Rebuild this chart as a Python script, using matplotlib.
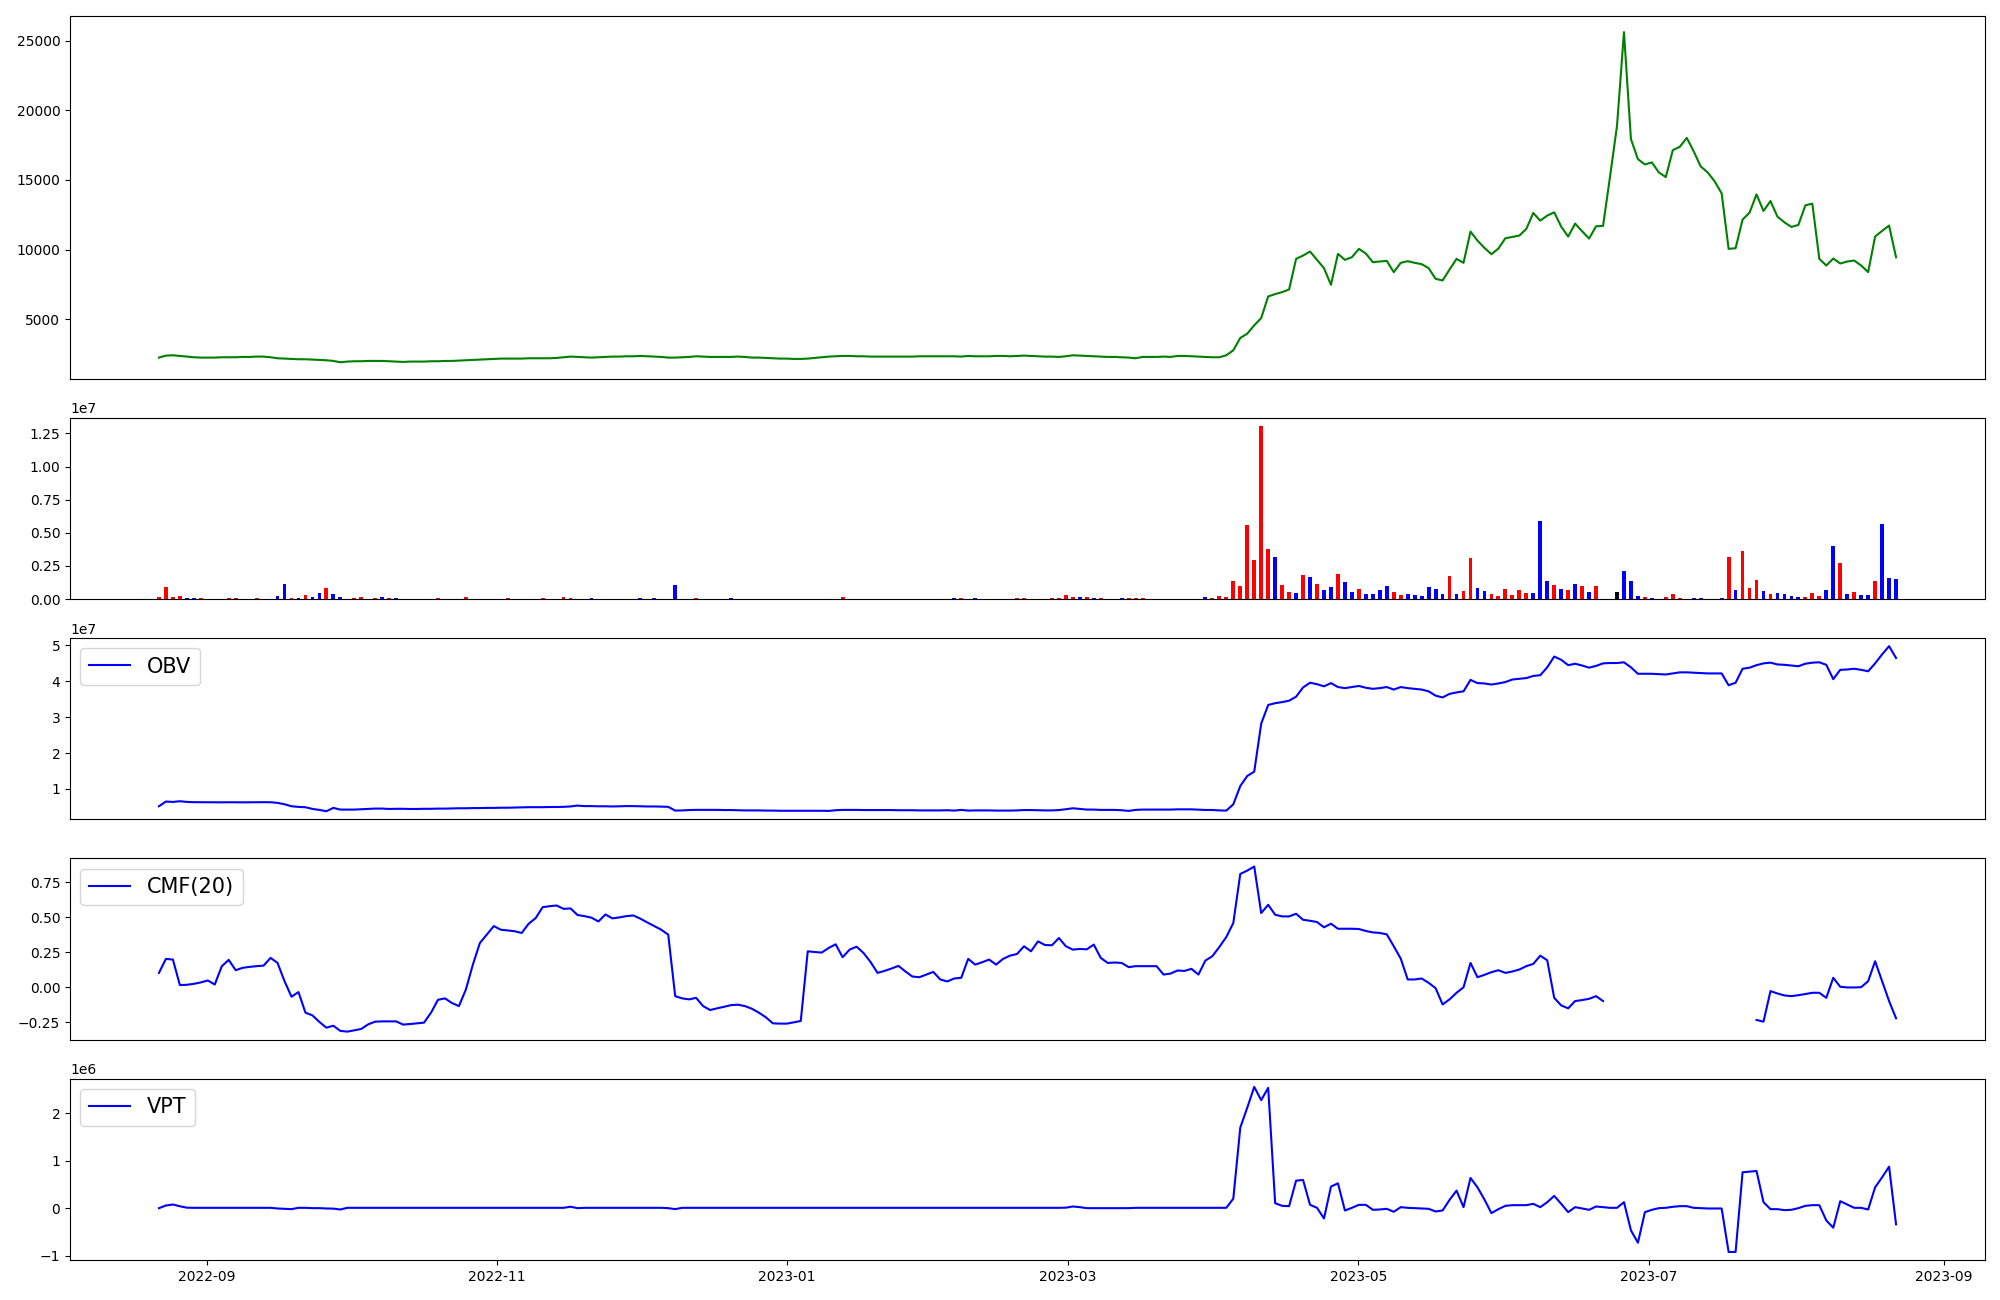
import numpy as np
import pandas as pd
import matplotlib
matplotlib.use('Agg')
import matplotlib.pyplot as plt

# 250 evenly spaced sessions, 2022-08-22 .. 2023-08-22
dates = pd.date_range('2022-08-22', '2023-08-22', periods=250)

close = [
    2249, 2392, 2416, 2368, 2321, 2273, 2249, 2249, 2249, 2273,
    2273, 2273, 2297, 2297, 2321, 2321, 2273, 2201, 2177, 2154,
    2130, 2130, 2106, 2082, 2058, 2010, 1915, 1963, 1987, 1987,
    2010, 2010, 2010, 1987, 1963, 1939, 1963, 1963, 1963, 1987,
    1987, 2010, 2010, 2034, 2058, 2082, 2106, 2130, 2154, 2177,
    2177, 2177, 2177, 2201, 2201, 2201, 2201, 2225, 2273, 2321,
    2297, 2273, 2249, 2273, 2297, 2321, 2321, 2344, 2344, 2368,
    2344, 2321, 2297, 2249, 2249, 2273, 2297, 2344, 2321, 2297,
    2297, 2297, 2297, 2321, 2297, 2249, 2249, 2225, 2201, 2177,
    2177, 2154, 2154, 2177, 2225, 2273, 2321, 2344, 2368, 2368,
    2344, 2344, 2321, 2321, 2321, 2321, 2321, 2321, 2321, 2344,
    2344, 2344, 2344, 2344, 2344, 2321, 2368, 2344, 2344, 2344,
    2368, 2368, 2344, 2368, 2392, 2368, 2344, 2321, 2321, 2297,
    2344, 2416, 2392, 2368, 2344, 2321, 2297, 2297, 2273, 2249,
    2201, 2297, 2297, 2297, 2321, 2297, 2368, 2368, 2344, 2320,
    2297, 2273, 2273, 2416, 2774, 3657, 3967, 4563, 5088, 6639,
    6806, 6949, 7140, 9335, 9574, 9861, 9264, 8667, 7474, 9694,
    9264, 9455, 10051, 9717, 9097, 9145, 9192, 8381, 9049, 9168,
    9049, 8954, 8667, 7904, 7784, 8572, 9335, 9049, 11292, 10648,
    10122, 9669, 10075, 10814, 10910, 11005, 11483, 12628, 12079, 12437,
    12676, 11650, 10934, 11865, 11316, 10791, 11674, 11698, 15229, 18879,
    25608, 17925, 16493, 16111, 16255, 15539, 15205, 17138, 17376, 18020,
    17042, 15968, 15539, 14895, 14036, 10051, 10099, 12151, 12652, 13964,
    12771, 13487, 12366, 11960, 11626, 11769, 13177, 13296, 9335, 8858,
    9359, 9002, 9145, 9216, 8858, 8381, 10934, 11340, 11722, 9450,
]

# volume in millions of shares
volume_m = [
    0.15, 0.9, 0.15, 0.23, 0.08, 0.08, 0.08, 0, 0, 0,
    0.08, 0.08, 0, 0, 0.08, 0, 0, 0.23, 1.13, 0.08,
    0.08, 0.3, 0.15, 0.45, 0.83, 0.38, 0.15, 0, 0.08, 0.15,
    0, 0.08, 0.15, 0.08, 0.08, 0, 0, 0, 0, 0,
    0.08, 0, 0, 0, 0.15, 0, 0, 0, 0, 0,
    0.08, 0, 0, 0, 0, 0.08, 0, 0, 0.15, 0.08,
    0, 0, 0.08, 0, 0, 0, 0, 0, 0, 0.08,
    0, 0.08, 0, 0, 1.06, 0, 0, 0.08, 0, 0,
    0, 0, 0.08, 0, 0, 0, 0, 0, 0, 0,
    0, 0, 0, 0, 0, 0, 0, 0, 0.15, 0,
    0, 0, 0, 0, 0, 0, 0, 0, 0, 0,
    0, 0, 0, 0, 0.08, 0.08, 0, 0.08, 0, 0,
    0, 0, 0, 0.08, 0.08, 0, 0, 0, 0.08, 0.08,
    0.3, 0.15, 0.15, 0.15, 0.08, 0.08, 0, 0, 0.08, 0.08,
    0.08, 0.08, 0, 0, 0, 0, 0, 0, 0, 0,
    0.15, 0.08, 0.23, 0.15, 1.36, 0.98, 5.58, 2.94, 13.05, 3.77,
    3.17, 1.06, 0.53, 0.45, 1.81, 1.66, 1.13, 0.68, 0.90, 1.89,
    1.28, 0.53, 0.75, 0.38, 0.38, 0.68, 0.98, 0.53, 0.30, 0.38,
    0.30, 0.23, 0.90, 0.75, 0.38, 1.73, 0.38, 0.60, 3.09, 0.83,
    0.60, 0.38, 0.23, 0.75, 0.30, 0.68, 0.45, 0.45, 5.88, 1.36,
    1.06, 0.75, 0.68, 1.13, 0.98, 0.53, 0.98, 0, 0, 0.53,
    2.11, 1.36, 0.23, 0.15, 0.08, 0, 0.15, 0.38, 0.08, 0,
    0.08, 0.08, 0, 0, 0.08, 3.17, 0.68, 3.62, 0.83, 1.43,
    0.60, 0.38, 0.45, 0.38, 0.23, 0.15, 0.15, 0.45, 0.23, 0.68,
    4.00, 2.71, 0.38, 0.53, 0.30, 0.30, 1.36, 5.66, 1.58, 1.51,
]

# candle direction: 1 up, -1 down, 0 unchanged
candle_dir = [
    1, 1, 1, 1, -1, -1, 1, 0, 0, 0,
    1, 1, 0, 0, 1, 0, 0, -1, -1, 1,
    -1, 1, -1, -1, 1, -1, -1, 0, 1, 1,
    0, 1, -1, 1, -1, 0, 0, 0, 0, 0,
    1, 0, 0, 0, 1, 0, 0, 0, 0, 0,
    1, 0, 0, 0, 0, 1, 0, 0, 1, 1,
    0, 0, -1, 0, 0, 0, 0, 0, 0, -1,
    0, -1, 0, 0, -1, 0, 0, 1, 0, 0,
    0, 0, -1, 0, 0, 0, 0, 0, 0, 0,
    0, 0, 0, 0, 0, 0, 0, 0, 1, 0,
    0, 0, 0, 0, 0, 0, 0, 0, 0, 0,
    0, 0, 0, 0, -1, 1, 0, -1, 0, 0,
    0, 0, 0, 1, 1, 0, 0, 0, 1, 1,
    1, 1, -1, 1, -1, 1, 0, 0, -1, 1,
    1, 1, 0, 0, 0, 0, 0, 0, 0, 0,
    -1, 1, 1, 1, 1, 1, 1, 1, 1, 1,
    -1, 1, 1, -1, 1, -1, 1, -1, -1, 1,
    -1, -1, 1, -1, -1, -1, -1, 1, 1, -1,
    -1, -1, -1, -1, -1, 1, -1, 1, 1, -1,
    -1, 1, 1, 1, 1, 1, 1, -1, -1, -1,
    1, -1, 1, -1, 1, -1, 1, 0, 0, 0,
    -1, -1, -1, 1, -1, 0, 1, 1, 1, 0,
    -1, -1, 0, 0, -1, 1, -1, 1, 1, 1,
    -1, 1, -1, -1, -1, -1, 1, 1, 1, -1,
    -1, 1, -1, 1, -1, -1, 1, -1, -1, -1,
]

# On-Balance Volume, units of 1e7
obv_1e7 = [
    0.516, 0.647, 0.637, 0.656, 0.637, 0.63, 0.628, 0.628, 0.625, 0.625,
    0.628, 0.625, 0.625, 0.628, 0.628, 0.63, 0.628, 0.61, 0.572, 0.516,
    0.498, 0.488, 0.442, 0.414, 0.377, 0.47, 0.423, 0.423, 0.423, 0.433,
    0.442, 0.451, 0.451, 0.44, 0.445, 0.445, 0.44, 0.44, 0.445, 0.445,
    0.45, 0.45, 0.455, 0.46, 0.46, 0.465, 0.465, 0.47, 0.47, 0.475,
    0.475, 0.48, 0.485, 0.49, 0.49, 0.49, 0.495, 0.495, 0.5, 0.51,
    0.535, 0.52, 0.52, 0.515, 0.515, 0.51, 0.515, 0.52, 0.52, 0.515,
    0.51, 0.51, 0.505, 0.5, 0.395, 0.4, 0.41, 0.415, 0.415, 0.415,
    0.415, 0.41, 0.41, 0.405, 0.4, 0.4, 0.4, 0.395, 0.395, 0.39,
    0.39, 0.39, 0.39, 0.39, 0.39, 0.39, 0.386, 0.405, 0.414, 0.414,
    0.414, 0.41, 0.41, 0.41, 0.41, 0.41, 0.405, 0.405, 0.405, 0.4,
    0.4, 0.4, 0.4, 0.405, 0.395, 0.414, 0.395, 0.4, 0.4, 0.4,
    0.395, 0.395, 0.395, 0.4, 0.41, 0.41, 0.405, 0.4, 0.4, 0.41,
    0.433, 0.46, 0.442, 0.423, 0.423, 0.414, 0.414, 0.414, 0.405, 0.386,
    0.414, 0.423, 0.423, 0.423, 0.423, 0.423, 0.43, 0.43, 0.43, 0.42,
    0.412, 0.412, 0.40, 0.394, 0.57, 1.08, 1.36, 1.48, 2.82, 3.34,
    3.39, 3.42, 3.46, 3.57, 3.83, 3.96, 3.92, 3.86, 3.95, 3.84,
    3.81, 3.84, 3.87, 3.82, 3.79, 3.81, 3.84, 3.77, 3.84, 3.81,
    3.79, 3.77, 3.72, 3.60, 3.55, 3.65, 3.69, 3.72, 4.04, 3.95,
    3.94, 3.91, 3.94, 3.98, 4.05, 4.07, 4.09, 4.15, 4.17, 4.39,
    4.69, 4.60, 4.45, 4.49, 4.44, 4.38, 4.43, 4.50, 4.51, 4.51,
    4.53, 4.39, 4.21, 4.21, 4.21, 4.20, 4.19, 4.22, 4.25, 4.25,
    4.24, 4.23, 4.22, 4.22, 4.22, 3.89, 3.96, 4.35, 4.38, 4.45,
    4.50, 4.52, 4.47, 4.46, 4.44, 4.42, 4.49, 4.52, 4.53, 4.46,
    4.06, 4.32, 4.33, 4.35, 4.32, 4.28, 4.50, 4.75, 4.98, 4.65,
]

# Chaikin Money Flow (20); nan where it could not be computed
nan = np.nan
cmf20 = [
    0.103, 0.203, 0.198, 0.016, 0.018, 0.025, 0.035, 0.049, 0.02, 0.15,
    0.196, 0.122, 0.139, 0.146, 0.151, 0.155, 0.21, 0.174, 0.044, -0.067,
    -0.034, -0.181, -0.2, -0.247, -0.288, -0.274, -0.311, -0.316, -0.307, -0.297,
    -0.264, -0.245, -0.243, -0.243, -0.243, -0.266, -0.262, -0.257, -0.252, -0.181,
    -0.089, -0.079, -0.112, -0.134, -0.015, 0.162, 0.316, 0.376, 0.437, 0.411,
    0.406, 0.4, 0.388, 0.454, 0.494, 0.572, 0.579, 0.584, 0.56, 0.563,
    0.516, 0.508, 0.497, 0.47, 0.52, 0.492, 0.499, 0.508, 0.513, 0.49,
    0.463, 0.437, 0.411, 0.376, -0.063, -0.079, -0.086, -0.075, -0.134, -0.162,
    -0.15, -0.139, -0.127, -0.124, -0.134, -0.153, -0.181, -0.214, -0.257, -0.259,
    -0.259, -0.25, -0.24, 0.257, 0.252, 0.248, 0.281, 0.307, 0.215, 0.269,
    0.29, 0.245, 0.181, 0.103, 0.117, 0.134, 0.153, 0.113, 0.077, 0.072,
    0.091, 0.11, 0.056, 0.042, 0.063, 0.068, 0.203, 0.162, 0.179, 0.198,
    0.162, 0.203, 0.226, 0.238, 0.293, 0.257, 0.328, 0.302, 0.30, 0.352,
    0.293, 0.269, 0.274, 0.271, 0.305, 0.21, 0.174, 0.177, 0.174, 0.144,
    0.151, 0.151, 0.151, 0.151, 0.091, 0.098, 0.12, 0.117, 0.132, 0.091,
    0.191, 0.222, 0.288, 0.359, 0.459, 0.809, 0.833, 0.862, 0.53, 0.589,
    0.518, 0.506, 0.506, 0.525, 0.482, 0.475, 0.466, 0.428, 0.454, 0.418,
    0.418, 0.418, 0.416, 0.402, 0.392, 0.388, 0.378, 0.293, 0.205, 0.056,
    0.056, 0.063, 0.032, -0.006, -0.122, -0.086, -0.039, 0.0, 0.174, 0.072,
    0.089, 0.108, 0.122, 0.103, 0.113, 0.127, 0.151, 0.167, 0.226, 0.193,
    -0.075, -0.129, -0.15, -0.098, -0.091, -0.082, -0.063, -0.098, nan, nan,
    nan, nan, nan, nan, nan, nan, nan, nan, nan, nan,
    nan, nan, nan, nan, nan, nan, nan, nan, nan, -0.233,
    -0.245, -0.027, -0.044, -0.058, -0.063, -0.056, -0.048, -0.039, -0.039, -0.075,
    0.068, 0.004, -0.001, -0.001, 0.001, 0.044, 0.186, 0.044, -0.098, -0.221,
]

# Volume Price Trend, units of 1e6
vpt_1e6 = [
    0.0, 0.056, 0.077, 0.04, 0.01, 0.007, 0.007, 0.007, 0.007, 0.007,
    0.007, 0.007, 0.007, 0.007, 0.007, 0.007, 0.007, -0.007, -0.014, -0.021,
    0.007, 0.007, 0.0, 0.0, -0.007, -0.01, -0.028, 0.007, 0.007, 0.007,
    0.007, 0.007, 0.007, 0.007, 0.007, 0.007, 0.007, 0.007, 0.007, 0.007,
    0.007, 0.007, 0.007, 0.007, 0.007, 0.007, 0.007, 0.007, 0.007, 0.007,
    0.007, 0.007, 0.007, 0.007, 0.007, 0.007, 0.007, 0.007, 0.007, 0.03,
    0.0, 0.007, 0.007, 0.007, 0.007, 0.007, 0.007, 0.007, 0.007, 0.007,
    0.007, 0.007, 0.007, 0.0, -0.021, 0.007, 0.007, 0.007, 0.007, 0.007,
    0.007, 0.007, 0.007, 0.007, 0.007, 0.007, 0.007, 0.007, 0.007, 0.007,
    0.007, 0.007, 0.007, 0.007, 0.007, 0.007, 0.007, 0.007, 0.007, 0.007,
    0.007, 0.007, 0.007, 0.007, 0.007, 0.007, 0.007, 0.007, 0.007, 0.007,
    0.007, 0.007, 0.007, 0.007, 0.007, 0.007, 0.007, 0.007, 0.007, 0.007,
    0.007, 0.007, 0.007, 0.007, 0.007, 0.007, 0.007, 0.007, 0.007, 0.007,
    0.01, 0.035, 0.021, 0.0, 0.0, 0.0, 0.0, 0.0, 0.0, 0.0,
    0.007, 0.007, 0.007, 0.007, 0.007, 0.007, 0.007, 0.007, 0.007, 0.007,
    0.007, 0.007, 0.007, 0.007, 0.2, 1.70, 2.12, 2.56, 2.28, 2.54,
    0.105, 0.049, 0.042, 0.58, 0.596, 0.07, 0.007, -0.217, 0.455, 0.525,
    -0.05, 0.007, 0.07, 0.07, -0.035, -0.028, -0.014, -0.077, 0.021, 0.007,
    0.0, -0.007, -0.014, -0.07, -0.049, 0.175, 0.371, 0.021, 0.638, 0.44,
    0.182, -0.105, -0.021, 0.049, 0.063, 0.063, 0.063, 0.091, 0.021, 0.126,
    0.259, 0.091, -0.084, 0.021, -0.007, -0.035, 0.035, 0.021, 0.007, 0.007,
    0.126, -0.47, -0.729, -0.084, -0.035, 0.0, 0.007, 0.028, 0.042, 0.042,
    0.007, 0.0, -0.007, -0.007, -0.007, -0.925, -0.925, 0.757, 0.77, 0.785,
    0.126, -0.021, -0.021, -0.042, -0.035, 0.0, 0.049, 0.063, 0.063, -0.259,
    -0.413, 0.147, 0.077, 0.007, 0.007, -0.028, 0.44, 0.65, 0.876, -0.343,
]

fig, axes = plt.subplots(5, 1, figsize=(20, 13), sharex=True,
                         gridspec_kw={'height_ratios': [2, 1, 1, 1, 1]})
fig.subplots_adjust(left=0.035, right=0.9925, top=0.988, bottom=0.0306, hspace=0.178)

# price
axes[0].plot(dates, close, color='green')

# volume bars coloured by candle direction
dir_colors = {1: 'red', -1: 'blue', 0: 'black'}
axes[1].bar(dates, np.array(volume_m) * 1e6, color=[dir_colors[d] for d in candle_dir])

# indicators
axes[2].plot(dates, np.array(obv_1e7) * 1e7, color='blue', label='OBV')
axes[3].plot(dates, cmf20, color='blue', label='CMF(20)')
axes[4].plot(dates, np.array(vpt_1e6) * 1e6, color='blue', label='VPT')

for ax in axes[2:]:
    ax.legend(loc='upper left', fontsize=15)

for ax in axes[:-1]:
    ax.tick_params(axis='x', bottom=False, labelbottom=False)

plt.savefig('out.png', dpi=100)
